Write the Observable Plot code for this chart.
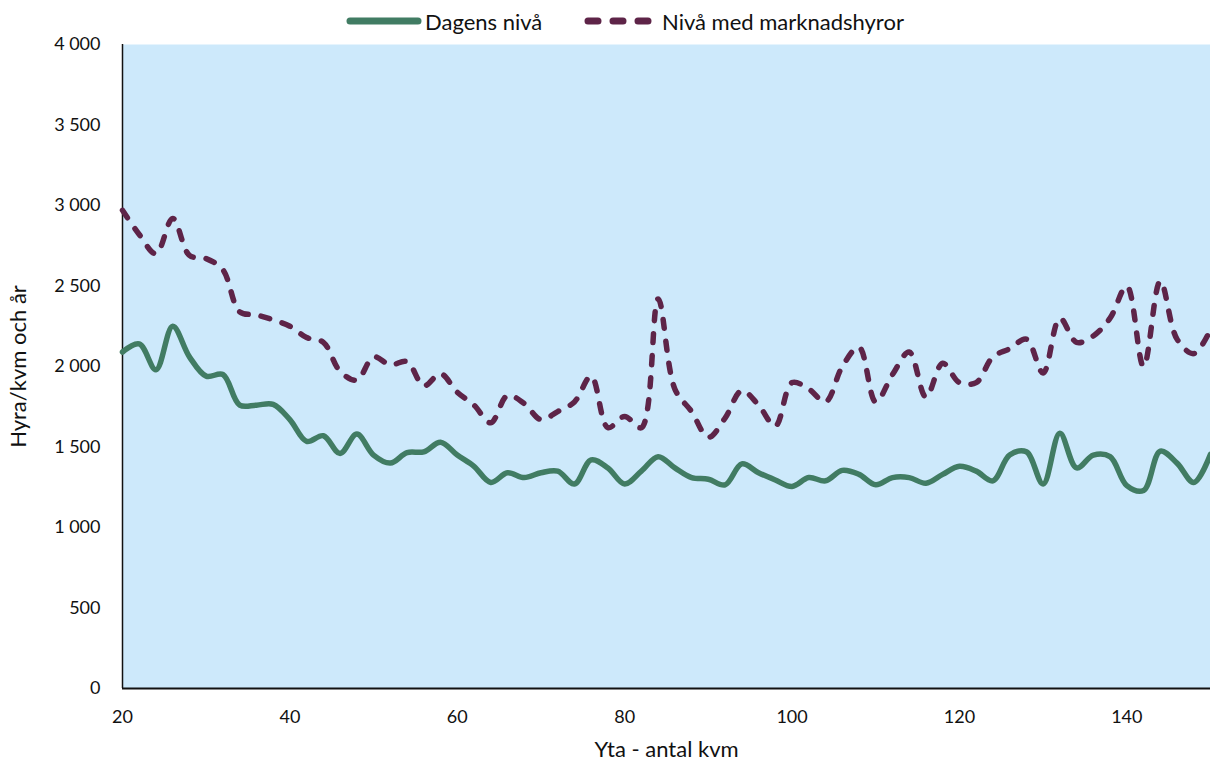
<!DOCTYPE html>
<html>
<head>
<meta charset="utf-8">
<script src="https://cdn.jsdelivr.net/npm/d3@7"></script>
<script src="https://cdn.jsdelivr.net/npm/@observablehq/plot@0.6"></script>
<style>
  body { margin: 0; background: #fff; font-family: Lato, "Open Sans", sans-serif; }
  #legend { position: relative; height: 36px; font-size: 22px; color: #111; }
  #legend .sw { position: absolute; top: 17px; }
  #legend .tx { position: absolute; top: 8px; line-height: 27px; white-space: nowrap; }
  svg { display: block; }
</style>
</head>
<body>
<div id="legend"></div>
<div id="chart"></div>
<script>
const sizes = [20,22,24,26,28,30,32,34,36,38,40,42,44,46,48,50,52,54,56,58,60,62,64,66,68,70,72,74,76,78,80,82,84,86,88,90,92,94,96,98,100,102,104,106,108,110,112,114,116,118,120,122,124,126,128,130,132,134,136,138,140,142,144,146,148,150];
const dagensNiva = [2090,2140,1980,2250,2060,1940,1950,1760,1760,1765,1670,1535,1570,1460,1580,1450,1400,1465,1470,1530,1450,1380,1280,1340,1310,1340,1350,1270,1420,1370,1270,1350,1440,1370,1310,1300,1265,1395,1340,1295,1255,1310,1290,1355,1330,1265,1310,1310,1275,1330,1380,1350,1290,1450,1470,1270,1585,1370,1450,1440,1260,1230,1475,1400,1280,1455];
const marknadshyror = [2970,2820,2700,2920,2690,2670,2600,2340,2320,2290,2250,2180,2150,1970,1915,2060,2010,2030,1880,1955,1840,1760,1650,1820,1770,1670,1720,1780,1940,1620,1690,1620,2420,1860,1720,1560,1680,1850,1760,1630,1900,1860,1780,2000,2120,1780,1950,2090,1810,2020,1900,1900,2060,2110,2170,1960,2300,2150,2190,2300,2500,2000,2530,2170,2080,2230];
const seriesNames = ["Dagens nivå", "Nivå med marknadshyror"];
const xTicks = [20,40,60,80,100,120,140];
const yTicks = [0,500,1000,1500,2000,2500,3000,3500,4000];

const green = "#417c63";
const purple = "#5e2448";

const rowsA = sizes.map((s, i) => ({x: s, y: dagensNiva[i]}));
const rowsB = sizes.map((s, i) => ({x: s, y: marknadshyror[i]}));

// Legend
const legend = document.getElementById("legend");
legend.innerHTML = `
  <svg class="sw" style="left:346px" width="76" height="8"><line x1="4" y1="4" x2="72" y2="4" stroke="${green}" stroke-width="7" stroke-linecap="round"/></svg>
  <span class="tx" style="left:425px">${seriesNames[0]}</span>
  <svg class="sw" style="left:584px" width="68" height="8"><line x1="4" y1="4" x2="64" y2="4" stroke="${purple}" stroke-width="7" stroke-linecap="round" stroke-dasharray="10 15"/></svg>
  <span class="tx" style="left:662px">${seriesNames[1]}</span>`;

const fmt = d => d3.format(",")(d).replace(/,/g, " ");

const chart = Plot.plot({
  width: 1210,
  height: 733,
  marginTop: 8,
  marginBottom: 81,
  marginLeft: 122,
  marginRight: 0,
  style: { fontFamily: "Lato, sans-serif", fontSize: "18px", color: "#111", background: "#fff", overflow: "visible" },
  x: { domain: [20, 150], ticks: xTicks, tickSize: 0, tickPadding: 22, tickFormat: d => String(d), label: null },
  y: { domain: [0, 4000], ticks: yTicks, tickSize: 0, tickPadding: 22, tickFormat: fmt, label: null },
  marks: [
    Plot.frame({ fill: "#cde9fb", stroke: null }),
    Plot.ruleX([20], { stroke: "#111", strokeWidth: 1.5 }),
    Plot.ruleY([0], { stroke: "#111", strokeWidth: 2 }),
    Plot.line(rowsA, { x: "x", y: "y", stroke: green, strokeWidth: 5.5, curve: "catmull-rom" }),
    Plot.line(rowsB, { x: "x", y: "y", stroke: purple, strokeWidth: 5.5, curve: "catmull-rom", strokeDasharray: "9 13", strokeLinecap: "round" }),
    Plot.text(["Yta - antal kvm"], { frameAnchor: "bottom", dy: 68, fontSize: 22, fill: "#111", textAnchor: "middle" }),
    Plot.text(["Hyra/kvm och år"], { frameAnchor: "left", dx: -104, rotate: -90, fontSize: 22, fill: "#111", textAnchor: "middle" })
  ]
});
document.getElementById("chart").appendChild(chart);
</script>
</body>
</html>
